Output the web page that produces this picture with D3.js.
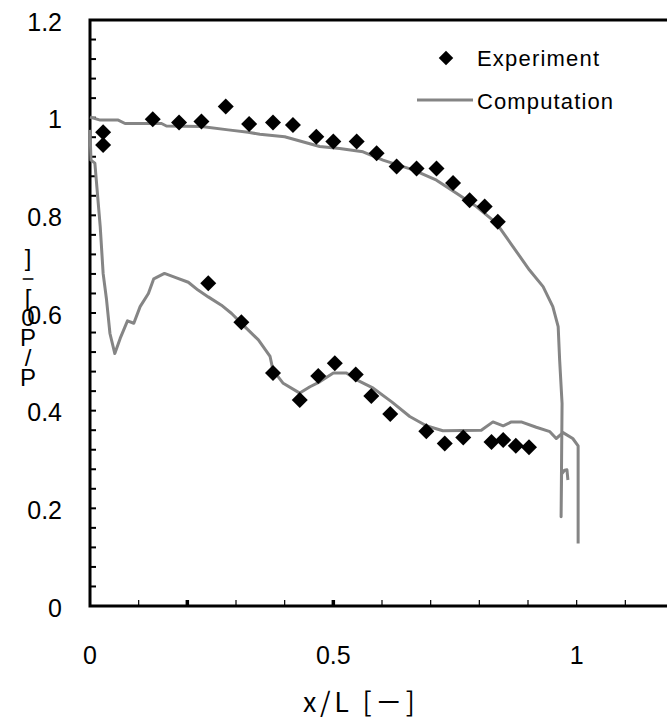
<!DOCTYPE html>
<html lang="ja">
<head>
  <meta charset="UTF-8">
  <title>P/P0 distribution</title>
  <style>
    body { margin: 0; background: #fff; }
    svg { display: block; font-family: "Liberation Sans", Arial, sans-serif; }
  </style>
</head>
<body>
  <svg width="667" height="719"></svg>
  <script src="https://d3js.org/d3.v7.min.js"></script>
  <script>
    // experiment, upper surface (x/L, P/P0)
    const expUpperX = [0.027, 0.027, 0.129, 0.183, 0.229, 0.279, 0.327, 0.376, 0.417, 0.465, 0.500, 0.548, 0.589, 0.630, 0.671, 0.712, 0.746, 0.780, 0.811, 0.838];
    const expUpperY = [0.970, 0.944, 0.997, 0.990, 0.992, 1.023, 0.987, 0.990, 0.985, 0.961, 0.951, 0.951, 0.927, 0.900, 0.896, 0.896, 0.866, 0.831, 0.818, 0.787];
    // experiment, lower surface
    const expLowerX = [0.243, 0.311, 0.376, 0.431, 0.469, 0.503, 0.546, 0.578, 0.617, 0.691, 0.729, 0.767, 0.825, 0.849, 0.875, 0.902];
    const expLowerY = [0.661, 0.581, 0.477, 0.422, 0.471, 0.497, 0.474, 0.430, 0.393, 0.358, 0.333, 0.345, 0.336, 0.340, 0.328, 0.325];

    // computation, upper surface
    const compUpperX = [0.000, 0.021, 0.058, 0.072, 0.147, 0.157, 0.229, 0.284, 0.325, 0.349, 0.400, 0.472, 0.513, 0.561, 0.602, 0.664, 0.712, 0.753, 0.794, 0.835, 0.869, 0.903, 0.931, 0.951, 0.962, 0.965, 0.970, 0.968, 0.969, 0.975, 0.980, 0.982];
    const compUpperY = [1.001, 0.995, 0.995, 0.988, 0.988, 0.983, 0.982, 0.975, 0.970, 0.966, 0.961, 0.941, 0.937, 0.930, 0.913, 0.893, 0.872, 0.845, 0.818, 0.784, 0.736, 0.688, 0.654, 0.613, 0.572, 0.504, 0.415, 0.183, 0.270, 0.278, 0.279, 0.258];
    // computation, lower surface
    const compLowerX = [0.000, 0.002, 0.010, 0.021, 0.027, 0.034, 0.041, 0.051, 0.062, 0.077, 0.090, 0.103, 0.120, 0.131, 0.153, 0.175, 0.202, 0.222, 0.243, 0.270, 0.291, 0.318, 0.346, 0.370, 0.376, 0.397, 0.431, 0.452, 0.472, 0.500, 0.527, 0.548, 0.582, 0.620, 0.657, 0.691, 0.725, 0.804, 0.828, 0.849, 0.866, 0.886, 0.917, 0.945, 0.958, 0.972, 0.992, 1.003, 1.003];
    const compLowerY = [0.975, 0.913, 0.907, 0.777, 0.681, 0.627, 0.558, 0.517, 0.548, 0.584, 0.579, 0.613, 0.640, 0.670, 0.681, 0.673, 0.663, 0.647, 0.633, 0.616, 0.599, 0.572, 0.545, 0.511, 0.483, 0.456, 0.436, 0.449, 0.459, 0.477, 0.477, 0.463, 0.446, 0.418, 0.388, 0.369, 0.359, 0.360, 0.377, 0.369, 0.377, 0.377, 0.366, 0.357, 0.343, 0.355, 0.343, 0.328, 0.128];

    const xTicks = [0, 0.5, 1];
    const yTicks = [0, 0.2, 0.4, 0.6, 0.8, 1, 1.2];
    const xBoldMinor = [0.2, 0.5];
    const seriesNames = ['Experiment', 'Computation'];
    const xTitle = 'x/L [－]';
    const yTitle = 'P/P0[－]';

    const svg = d3.select('svg');
    const x = d3.scaleLinear().domain([0, 1.2]).range([90, 674]);
    const y = d3.scaleLinear().domain([0, 1.2]).range([606, 20]);

    const grey = '#858585';

    // frame: left, bottom and top (right side falls outside the window)
    svg.append('path')
      .attr('fill', 'none')
      .attr('stroke', '#000')
      .attr('stroke-width', 3)
      .attr('d', `M${x(1.2)},${y(1.2)}H${x(0)}V${y(0)}H${x(1.2)}`);

    // minor ticks, pointing inside
    const yMinor = d3.range(0, 1.2001, 0.04);
    svg.append('g').selectAll('line').data(yMinor).join('line')
      .attr('x1', x(0)).attr('x2', x(0) + 6)
      .attr('y1', d => y(d)).attr('y2', d => y(d))
      .attr('stroke', '#000').attr('stroke-width', 2);

    const xMinor = d3.range(0.1, 1.2, 0.1);
    svg.append('g').selectAll('line').data(xMinor).join('line')
      .attr('x1', d => x(d)).attr('x2', d => x(d))
      .attr('y1', y(0)).attr('y2', y(0) - 6)
      .attr('stroke', '#000')
      .attr('stroke-width', d => xBoldMinor.some(b => Math.abs(b - d) < 1e-6) ? 3.5 : 1.2);

    // tick labels
    svg.append('g').selectAll('text').data(yTicks).join('text')
      .attr('x', 62).attr('y', d => y(d) + 4)
      .attr('text-anchor', 'end')
      .attr('dominant-baseline', 'middle')
      .attr('font-size', 25)
      .text(d => d3.format('~g')(d));

    svg.append('g').selectAll('text').data(xTicks).join('text')
      .attr('x', d => x(d)).attr('y', 664)
      .attr('text-anchor', 'middle')
      .attr('font-size', 25)
      .text(d => d3.format('~g')(d));

    // axis titles
    svg.append('text')
      .attr('x', 303).attr('y', 712)
      .attr('font-size', 27)
      .attr('font-family', '"Noto Sans CJK JP", sans-serif')
      .attr('textLength', 112)
      .attr('lengthAdjust', 'spacing')
      .text(xTitle);

    // y title: characters stacked upright, read bottom to top
    svg.append('g').selectAll('text').data(Array.from(yTitle)).join('text')
      .attr('x', 28)
      .attr('y', (d, i) => 380 - i * 20)
      .attr('text-anchor', 'middle')
      .attr('dominant-baseline', 'middle')
      .attr('font-size', 24)
      .text(d => d);

    // computation lines
    const line = d3.line().x(d => x(d[0])).y(d => y(d[1]));
    const compLines = [
      d3.zip(compUpperX, compUpperY),
      d3.zip(compLowerX, compLowerY)
    ];
    svg.append('g').selectAll('path').data(compLines).join('path')
      .attr('fill', 'none')
      .attr('stroke', grey)
      .attr('stroke-width', 3)
      .attr('stroke-linejoin', 'round')
      .attr('d', line);

    // experiment diamonds
    const diamond = d3.symbol().type(d3.symbolSquare).size(128);
    const expPts = d3.zip(expUpperX, expUpperY).concat(d3.zip(expLowerX, expLowerY));
    svg.append('g').selectAll('path').data(expPts).join('path')
      .attr('transform', d => `translate(${x(d[0])},${y(d[1])}) rotate(45)`)
      .attr('d', diamond)
      .attr('fill', '#000');

    // legend
    const leg = svg.append('g');
    leg.append('path')
      .attr('transform', 'translate(446,58) rotate(45)')
      .attr('d', d3.symbol().type(d3.symbolSquare).size(105))
      .attr('fill', '#000');
    leg.append('line')
      .attr('x1', 417).attr('x2', 473).attr('y1', 100).attr('y2', 100)
      .attr('stroke', grey).attr('stroke-width', 3);
    leg.selectAll('text').data(seriesNames).join('text')
      .attr('x', 477)
      .attr('y', (d, i) => 66 + i * 43)
      .attr('font-size', 22)
      .attr('textLength', (d, i) => i ? 136 : 122)
      .attr('lengthAdjust', 'spacing')
      .text(d => d);
  </script>
</body>
</html>
